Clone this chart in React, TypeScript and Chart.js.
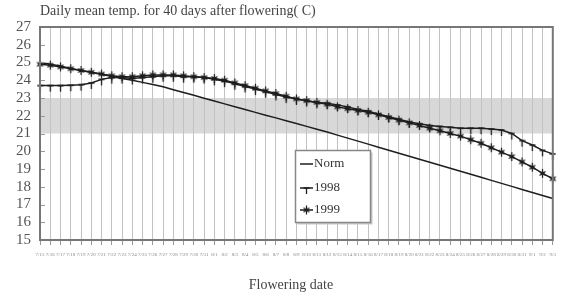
import React, { useEffect, useRef } from "react";
import { Chart, registerables } from "chart.js";

Chart.register(...registerables);

const TITLE = "Daily mean temp. for 40 days after flowering( C)";
const X_TITLE = "Flowering date";

const DATES = [
  "7/15", "7/16", "7/17", "7/18", "7/19", "7/20", "7/21", "7/22", "7/23", "7/24",
  "7/25", "7/26", "7/27", "7/28", "7/29", "7/30", "7/31", "8/1", "8/2", "8/3",
  "8/4", "8/5", "8/6", "8/7", "8/8", "8/9", "8/10", "8/11", "8/12", "8/13",
  "8/14", "8/15", "8/16", "8/17", "8/18", "8/19", "8/20", "8/21", "8/22", "8/23",
  "8/24", "8/25", "8/26", "8/27", "8/28", "8/29", "8/30", "8/31", "9/1", "9/2", "9/3",
];

const NORM = [
  25.0, 24.9, 24.8, 24.67, 24.55, 24.45, 24.33, 24.22, 24.1, 24.0,
  23.88, 23.76, 23.63, 23.47, 23.31, 23.15, 22.99, 22.83, 22.67, 22.51,
  22.35, 22.19, 22.03, 21.88, 21.72, 21.56, 21.4, 21.24, 21.08, 20.91,
  20.74, 20.57, 20.4, 20.23, 20.06, 19.89, 19.72, 19.55, 19.38, 19.21,
  19.04, 18.87, 18.7, 18.53, 18.36, 18.19, 18.02, 17.85, 17.68, 17.51, 17.34,
];

const Y1998 = [
  23.7, 23.7, 23.7, 23.72, 23.75, 23.85, 24.05, 24.15, 24.15, 24.1,
  24.15, 24.2, 24.25, 24.25, 24.2, 24.2, 24.15, 24.05, 23.95, 23.8,
  23.65, 23.5, 23.35, 23.2, 23.05, 22.95, 22.85, 22.75, 22.7, 22.6,
  22.5, 22.35, 22.25, 22.1, 21.95, 21.8, 21.65, 21.55, 21.45, 21.4,
  21.35, 21.3, 21.3, 21.3, 21.25, 21.2, 21.0, 20.6, 20.35, 20.05, 19.85,
];

const Y1999 = [
  24.9, 24.85, 24.75, 24.65, 24.55, 24.45, 24.35, 24.25, 24.2, 24.2,
  24.25, 24.3, 24.3, 24.3, 24.25, 24.2, 24.15, 24.1, 24.0, 23.85,
  23.7, 23.55, 23.4, 23.25, 23.1, 22.95, 22.85, 22.75, 22.65, 22.5,
  22.4, 22.3, 22.2, 22.05, 21.9, 21.75, 21.6, 21.45, 21.3, 21.15,
  21.0, 20.85, 20.65, 20.45, 20.2, 19.95, 19.7, 19.4, 19.1, 18.75, 18.45,
];

const SERIES_NAMES = ["Norm", "1998", "1999"];
const BAND = [21, 23];
const Y_MIN = 15;
const Y_MAX = 27;

const SERIF = '"Liberation Serif", "DejaVu Serif", serif';
const INK = "#1e1e1e";

function makeTee(): HTMLCanvasElement {
  const c = document.createElement("canvas");
  c.width = 7;
  c.height = 14;
  const g = c.getContext("2d")!;
  g.strokeStyle = INK;
  g.lineWidth = 1.3;
  g.beginPath();
  g.moveTo(0.5, 7);
  g.lineTo(6.5, 7);
  g.moveTo(3.5, 7);
  g.lineTo(3.5, 13);
  g.stroke();
  return c;
}

function makeStar(): HTMLCanvasElement {
  const c = document.createElement("canvas");
  c.width = 9;
  c.height = 13;
  const g = c.getContext("2d")!;
  g.strokeStyle = INK;
  g.fillStyle = INK;
  g.lineWidth = 1.2;
  g.beginPath();
  g.moveTo(4.5, 2);
  g.lineTo(4.5, 11);
  g.moveTo(1.5, 4.5);
  g.lineTo(7.5, 8.5);
  g.moveTo(7.5, 4.5);
  g.lineTo(1.5, 8.5);
  g.stroke();
  g.beginPath();
  g.arc(4.5, 6.5, 2, 0, Math.PI * 2);
  g.fill();
  return c;
}

export default function App() {
  const ref = useRef<HTMLCanvasElement | null>(null);

  useEffect(() => {
    document.body.style.margin = "0";
    const canvas = ref.current;
    if (!canvas) return;
    const tee = makeTee();
    const star = makeStar();

    const decor = {
      id: "decor",
      beforeDraw(chart: any) {
        const { ctx, chartArea: a, scales } = chart;
        const y = scales.y;
        const yt = y.getPixelForValue(BAND[1]);
        const yb = y.getPixelForValue(BAND[0]);
        ctx.save();
        ctx.fillStyle = "#d8d8d8";
        ctx.fillRect(a.left, yt, a.right - a.left, yb - yt);
        ctx.restore();
      },
      afterDraw(chart: any) {
        const { ctx, chartArea: a, scales } = chart;
        const y = scales.y;
        ctx.save();
        ctx.strokeStyle = "#999";
        ctx.lineWidth = 1;
        for (let v = Y_MIN; v <= Y_MAX; v++) {
          const py = Math.round(y.getPixelForValue(v)) + 0.5;
          ctx.beginPath();
          ctx.moveTo(a.left, py);
          ctx.lineTo(a.left + 5, py);
          ctx.stroke();
        }
        ctx.strokeStyle = "#777";
        ctx.lineWidth = 2;
        ctx.strokeRect(a.left, a.top, a.right - a.left, a.bottom - a.top);

        ctx.fillStyle = "#444";
        ctx.font = `14px ${SERIF}`;
        ctx.textBaseline = "middle";
        ctx.textAlign = "left";
        ctx.fillText(TITLE, 40, 11);

        ctx.textAlign = "center";
        ctx.fillText(X_TITLE, 291, 285);

        const lx = 295.5, ly = 150.5, lw = 75, lh = 72;
        ctx.fillStyle = "#c8c8c8";
        ctx.fillRect(lx + 2, ly + 2, lw, lh);
        ctx.fillStyle = "#fff";
        ctx.fillRect(lx, ly, lw, lh);
        ctx.strokeStyle = "#888";
        ctx.lineWidth = 1.5;
        ctx.strokeRect(lx, ly, lw, lh);

        const rows = [164, 188, 210];
        ctx.strokeStyle = INK;
        ctx.lineWidth = 1.5;
        rows.forEach((ry, i) => {
          ctx.beginPath();
          ctx.moveTo(300, ry);
          ctx.lineTo(313, ry);
          ctx.stroke();
          if (i === 1) ctx.drawImage(tee, 303, ry - 7);
          if (i === 2) ctx.drawImage(star, 302, ry - 6.5);
          ctx.fillStyle = "#333";
          ctx.font = `13px ${SERIF}`;
          ctx.textAlign = "left";
          ctx.textBaseline = "middle";
          ctx.fillText(SERIES_NAMES[i], 314, ry);
        });
        ctx.restore();
      },
    };

    const chart = new Chart(canvas, {
      type: "line",
      data: {
        labels: DATES,
        datasets: [
          {
            label: SERIES_NAMES[0],
            data: NORM,
            borderColor: INK,
            borderWidth: 1.5,
            pointRadius: 0,
            tension: 0,
          },
          {
            label: SERIES_NAMES[1],
            data: Y1998,
            borderColor: INK,
            borderWidth: 1.5,
            pointStyle: tee as any,
            pointRadius: 4,
            tension: 0,
          },
          {
            label: SERIES_NAMES[2],
            data: Y1999,
            borderColor: INK,
            borderWidth: 1.5,
            pointStyle: star as any,
            pointRadius: 4,
            tension: 0,
          },
        ],
      },
      options: {
        responsive: false,
        animation: false,
        layout: { padding: { top: 27, right: 7, left: 0, bottom: 0 } },
        plugins: {
          legend: { display: false },
          title: { display: false },
          tooltip: { enabled: false },
        },
        scales: {
          x: {
            offset: false,
            afterFit: (s: any) => {
              s.height = 57;
            },
            grid: {
              display: true,
              color: "#c2c2c2",
              lineWidth: 1,
              drawTicks: true,
              tickLength: 5,
              tickColor: "#999",
            },
            border: { display: false },
            ticks: {
              autoSkip: false,
              maxRotation: 0,
              minRotation: 0,
              padding: 7,
              color: "#888",
              font: { size: 5, family: SERIF },
            },
          },
          y: {
            min: Y_MIN,
            max: Y_MAX,
            afterFit: (s: any) => {
              s.width = 40;
            },
            grid: { display: false, drawTicks: false },
            border: { display: false },
            ticks: {
              stepSize: 1,
              autoSkip: false,
              padding: 9,
              color: "#555",
              font: { size: 15, family: SERIF },
            },
          },
        },
      },
      plugins: [decor],
    });

    return () => chart.destroy();
  }, []);

  return (
    <div style={{ width: 563, height: 297, background: "#fff" }}>
      <canvas ref={ref} width={563} height={297} />
    </div>
  );
}
